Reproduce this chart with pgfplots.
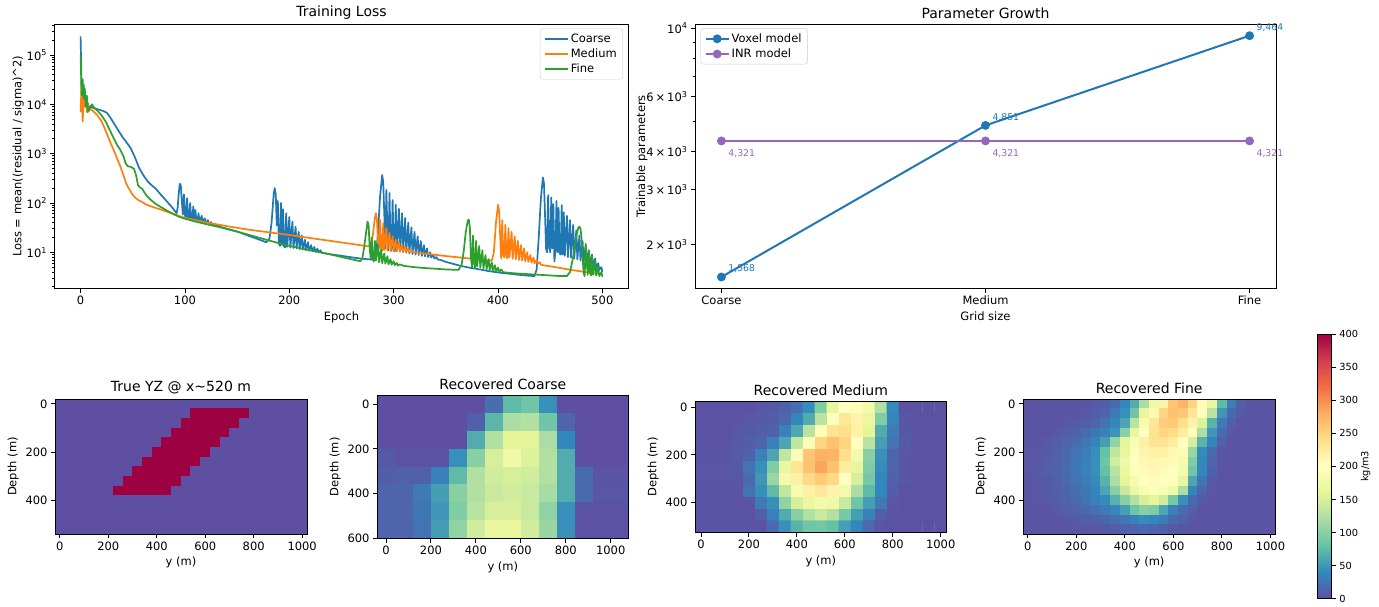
\documentclass[border=0pt]{standalone}
\usepackage{fontspec}
\setmainfont{DejaVu Sans}
\usepackage{pgfplots}
\pgfplotsset{compat=1.18}

\definecolor{tabblue}{RGB}{31,119,180}
\definecolor{taborange}{RGB}{255,127,14}
\definecolor{tabgreen}{RGB}{44,160,44}
\definecolor{tabpurple}{RGB}{148,103,189}

\newcommand\tickfont{\fontsize{11.5}{13.8}\selectfont}
\newcommand\titlefont{\fontsize{14}{16.8}\selectfont}
\newcommand\smallfont{\fontsize{9.3}{11}\selectfont}

\pgfplotsset{
  colormap={spectralr}{rgb255=(94,79,162) rgb255=(50,136,189) rgb255=(102,194,165)
    rgb255=(171,221,164) rgb255=(230,245,152) rgb255=(255,255,191) rgb255=(254,224,139)
    rgb255=(253,174,97) rgb255=(244,109,67) rgb255=(213,62,79) rgb255=(158,1,66)},
  mplbase/.style={
    scale only axis,
    axis line style={line width=0.9pt},
    tick align=outside,
    tick pos=left,
    major tick length=4pt,
    minor tick length=2.3pt,
    every tick/.style={black, line width=0.9pt},
    tick label style={font=\tickfont},
    label style={font=\tickfont},
    title style={font=\titlefont, yshift=-4.5pt},
    /pgf/number format/assume math mode=true,
    /pgf/number format/1000 sep={},
  },
  heat/.style={
    mplbase,
    y dir=reverse,
    axis on top,
    enlargelimits=false,
    xtick={0,200,400,600,800,1000},
    point meta min=0, point meta max=400,
    colormap name=spectralr,
    xlabel={y (m)}, ylabel={Depth (m)},
    anchor=north west,
  },
}

\begin{document}
\begin{tikzpicture}

% ---------------- training loss ----------------
\begin{axis}[
  mplbase,
  at={(54.5pt,-24pt)}, anchor=north west,
  width=574pt, height=264.7pt,
  xmin=-25, xmax=525,
  xtick={0,100,200,300,400,500},
  ymode=log, ymin=1.83, ymax=4.26e5,
  ytick={10,100,1000,1e4,1e5},
  yticklabels={10\textsuperscript{1},10\textsuperscript{2},10\textsuperscript{3},10\textsuperscript{4},10\textsuperscript{5}},
  minor ytick={2,3,4,5,6,7,8,9,20,30,40,50,60,70,80,90,200,300,400,500,600,700,800,900,2000,3000,4000,5000,6000,7000,8000,9000,2e4,3e4,4e4,5e4,6e4,7e4,8e4,9e4,2e5,3e5,4e5},
  title={Training Loss},
  xlabel={Epoch},
  ylabel={Loss = mean((residual / sigma)\textasciicircum 2)},
  ylabel style={yshift=-4pt},
  legend style={at={(1,1)}, anchor=north east, xshift=-5.5pt, yshift=-4.5pt,
    draw=black!20, rounded corners=2.5pt, font=\tickfont, inner xsep=4pt, inner ysep=3pt,
    row sep=1pt},
  legend cell align=left,
  legend image code/.code={\draw[#1] (0pt,0pt) -- (23pt,0pt);},
  every axis plot/.append style={line width=1.7pt, line join=round},
]
\addplot[tabblue] coordinates {
(0,240000) (1,20000) (2,12000) (3,25000) (4,9000) (5,15000) (6,8000) (7,10500) (8,8200)
(10,9000) (12,8500) (15,8100) (18,7800) (22,7300) (25,6800) (28,5600) (32,4100) (36,3000)
(40,2200) (44,1700) (48,1300) (52,850) (56,520) (60,370) (64,280) (68,230) (72,195) (76,155)
(80,125) (84,100) (88,80) (91,66) (92,62) (93,80) (94,150) (95,245) (96,230) (97,110) (98,58)
(99,150) (100,55) (101,52) (102,125) (103,50) (104,48) (105,100) (106,47) (107,45) (108,85)
(109,44) (110,72) (111,43) (112,42) (113,62) (114,41) (116,55) (117,40) (119,49) (120,39)
(122,45) (123,38) (125,41) (126,37) (128,38) (130,35) (140,30) (150,26.5) (160,22) (170,18.5)
(178,16) (181,19) (183,40) (185,150) (186,200) (187,150) (188,35) (189,110) (190,15) (191,13.5)
(192,100) (193,14) (194,75) (195,13) (196,12.5) (197,62) (198,13) (200,52) (201,12.5) (203,42)
(204,12.2) (206,33) (207,12) (209,26) (210,11.6) (212,22) (213,11.3) (215,18) (216,11) (218,16)
(219,10.7) (221,14) (222,10.5) (224,12.8) (225,10.2) (227,11.8) (228,10) (230,11) (231,9.8)
(235,9.5) (240,9.1) (250,8.5) (260,7.9) (270,7.4) (280,7.1) (283,8.5) (285,25) (287,140)
(289,370) (290,260) (291,60) (292,12) (293,185) (294,25) (295,11) (296,160) (297,15) (298,10.8)
(299,115) (300,12) (301,10.5) (302,92) (303,11) (305,76) (306,10.4) (308,62) (309,10.1) (311,50)
(312,9.8) (314,40) (315,9.5) (317,32) (318,9.2) (320,26) (321,9) (323,21) (324,8.8) (326,17)
(327,8.5) (329,14) (330,8.3) (332,12) (333,8) (335,10) (336,7.8) (338,9) (339,7.5) (341,8)
(342,7.2) (345,7) (350,6.4) (360,5.6) (370,5) (380,4.6) (390,4.2) (400,3.9) (410,3.7) (420,3.5)
(430,3.35) (435,3.3) (437,4.5) (439,20) (441,120) (443,330) (444,250) (445,60) (446,12) (447,10)
(448,145) (449,13) (450,10) (451,130) (452,12) (453,95) (454,6.5) (455,11) (456,110) (457,10)
(458,80) (459,9.5) (460,9) (461,90) (462,9) (463,65) (464,8.5) (466,55) (467,8) (469,45)
(470,7.8) (472,36) (473,7.5) (475,28) (476,7.2) (478,22) (479,6.8) (481,17) (482,6.5) (484,14)
(485,6) (487,11) (488,5.6) (490,9) (491,5.2) (493,7.5) (494,4.8) (496,6) (497,4.4) (499,5) (500,4)
};
\addlegendentry{Coarse}
\addplot[taborange] coordinates {
(0,7000) (1,27000) (2,4500) (3,14000) (4,9000) (5,13000) (6,7000) (7,10000) (8,7500) (10,8000)
(13,7000) (16,6000) (20,4600) (23,3300) (26,2300) (29,1600) (32,1150) (35,800) (38,560) (41,370)
(44,240) (47,185) (50,145) (53,125) (56,112) (59,105) (62,95) (66,88) (70,82) (75,76) (80,70)
(85,64) (90,59) (95,54) (100,50) (110,45) (120,40.5) (140,34) (160,29) (180,25.5) (200,22.5)
(220,19.5) (240,17) (260,14.8) (276,13.2) (278,14) (280,22) (282,50) (283,62) (284,45) (285,16)
(286,12) (287,46) (288,11.5) (289,10.8) (290,39) (291,11) (293,31) (294,10.8) (296,25) (297,10.6)
(299,21) (300,10.5) (302,18) (303,10.4) (305,16) (306,10.3) (308,14) (309,10.2) (311,13) (312,10.1)
(314,12) (315,10) (318,10.6) (319,9.9) (322,10.1) (325,9.7) (330,9.4) (340,8.9) (350,8.4) (360,8)
(370,7.6) (380,7.2) (390,6.9) (394,6.8) (396,10) (398,40) (400,92) (401,70) (402,22) (403,7.5)
(404,45) (405,9) (406,7.8) (407,36) (408,8.5) (409,7.5) (410,31) (411,8) (413,26) (414,7.4)
(416,21) (417,7.2) (419,17) (420,7) (422,14) (423,6.8) (425,12) (426,6.6) (428,10) (429,6.4)
(431,8.8) (432,6.2) (434,7.8) (435,6) (437,7) (438,5.8) (440,6.3) (441,5.6) (445,5.4) (450,5.2)
(460,4.8) (470,4.4) (480,4.1) (490,3.8) (500,3.6)
};
\addlegendentry{Medium}
\addplot[tabgreen] coordinates {
(0,100000) (1,15000) (2,32000) (3,13000) (4,21000) (5,9000) (6,15000) (7,7000) (9,9000)
(11,10000) (13,8500) (16,7500) (20,6000) (24,4500) (28,3000) (32,2000) (35,1500) (38,1200)
(41,900) (43,650) (45,560) (48,540) (51,500) (53,380) (55,230) (57,205) (59,195) (61,165)
(64,135) (68,112) (72,96) (76,85) (80,76) (85,66) (90,58) (95,52) (100,48) (110,42) (120,37.5)
(140,30) (160,23) (180,17.5) (200,13.5) (220,11) (240,9) (255,7.6) (268,6.6) (270,7.5) (272,14)
(274,30) (275,42) (276,35) (277,12) (278,7.5) (279,20) (280,7.2) (281,6.5) (282,17) (283,6.8)
(285,14) (286,6.3) (288,11.5) (289,6) (291,9.5) (292,5.9) (294,8.3) (295,5.7) (297,7.3) (298,5.6)
(300,6.6) (301,5.5) (303,6.1) (304,5.4) (306,5.7) (310,5.3) (320,5.0) (330,4.8) (340,4.65)
(350,4.5) (362,4.4) (365,5.5) (367,10) (369,25) (371,44) (372,46) (373,32) (374,8) (375,5)
(376,22) (377,6) (378,4.8) (379,17) (380,5.2) (382,13.5) (383,4.9) (385,11) (386,4.7) (388,8.8)
(389,4.5) (391,7.3) (392,4.4) (394,6.3) (395,4.2) (397,5.5) (398,4.1) (400,4.9) (401,4) (403,4.5)
(405,3.95) (410,3.85) (420,3.7) (440,3.5) (460,3.3) (466,3.3) (469,4) (472,8) (475,22) (477,32)
(478,33) (479,30) (480,20) (481,8) (482,3.8) (483,3.3) (484,15) (485,6) (486,3.5) (487,11)
(488,4) (489,3.4) (490,8.5) (491,3.5) (493,6.5) (494,3.4) (496,5) (497,3.3) (499,4) (500,3.2)
};
\addlegendentry{Fine}
\end{axis}

% ---------------- parameter growth ----------------
\begin{axis}[
  mplbase,
  at={(695pt,-24pt)}, anchor=north west,
  width=581pt, height=264.7pt,
  xmin=-0.1, xmax=2.1,
  xtick={0,1,2}, xticklabels={Coarse,Medium,Fine},
  ymode=log, ymin=1437, ymax=10327,
  ytick={2000,3000,4000,6000,10000},
  yticklabels={2\,×\,10\textsuperscript{3},3\,×\,10\textsuperscript{3},4\,×\,10\textsuperscript{3},6\,×\,10\textsuperscript{3},10\textsuperscript{4}},
  minor ytick={5000,7000,8000,9000},
  title={Parameter Growth},
  xlabel={Grid size},
  ylabel={Trainable parameters},
  ylabel style={yshift=-8pt},
  legend style={at={(0,1)}, anchor=north west, xshift=5.5pt, yshift=-4.5pt,
    draw=black!20, rounded corners=2.5pt, font=\tickfont, inner xsep=4pt, inner ysep=3pt,
    row sep=1pt},
  legend cell align=left,
  legend image code/.code={\draw[mark repeat=2,mark phase=2,#1] plot coordinates {(0pt,0pt) (11.5pt,0pt) (23pt,0pt)};},
]
\addplot[tabblue, line width=2pt, mark=*, mark size=3.4pt,
  nodes near coords, point meta=explicit symbolic,
  every node near coord/.append style={anchor=base west, xshift=6pt, yshift=5pt,
    inner sep=0pt, font=\smallfont, text=tabblue}]
  coordinates {(0,1568) [1,568] (1,4851) [4,851] (2,9464) [9,464]};
\addlegendentry{Voxel model}
\addplot[tabpurple, line width=2pt, mark=*, mark size=3.4pt,
  nodes near coords, point meta=explicit symbolic,
  every node near coord/.append style={anchor=base west, xshift=6pt, yshift=-15.5pt,
    inner sep=0pt, font=\smallfont, text=tabpurple}]
  coordinates {(0,4321) [4,321] (1,4321) [4,321] (2,4321) [4,321]};
\addlegendentry{INR model}
\end{axis}

% ---------------- true model section ----------------
\begin{axis}[
  heat,
  at={(55pt,-399pt)},
  width=252pt, height=135pt,
  xmin=-20, xmax=1020, ymin=-20, ymax=540,
  ytick={0,200,400},
  title={True YZ @ x\textasciitilde520 m},
]
\addplot[matrix plot*, mesh/cols=26, point meta=explicit]
  table[row sep=\\, header=false, meta index=0,
        x expr={40*mod(\coordindex,26)}, y expr={40*floor((\coordindex+0.5)/26)}] {
0\\0\\0\\0\\0\\0\\0\\0\\0\\0\\0\\0\\0\\0\\0\\0\\0\\0\\0\\0\\0\\0\\0\\0\\0\\0\\
0\\0\\0\\0\\0\\0\\0\\0\\0\\0\\0\\0\\0\\0\\400\\400\\400\\400\\400\\400\\0\\0\\0\\0\\0\\0\\
0\\0\\0\\0\\0\\0\\0\\0\\0\\0\\0\\0\\0\\400\\400\\400\\400\\400\\400\\0\\0\\0\\0\\0\\0\\0\\
0\\0\\0\\0\\0\\0\\0\\0\\0\\0\\0\\0\\400\\400\\400\\400\\400\\400\\0\\0\\0\\0\\0\\0\\0\\0\\
0\\0\\0\\0\\0\\0\\0\\0\\0\\0\\0\\400\\400\\400\\400\\400\\400\\0\\0\\0\\0\\0\\0\\0\\0\\0\\
0\\0\\0\\0\\0\\0\\0\\0\\0\\0\\400\\400\\400\\400\\400\\400\\0\\0\\0\\0\\0\\0\\0\\0\\0\\0\\
0\\0\\0\\0\\0\\0\\0\\0\\0\\400\\400\\400\\400\\400\\400\\0\\0\\0\\0\\0\\0\\0\\0\\0\\0\\0\\
0\\0\\0\\0\\0\\0\\0\\0\\400\\400\\400\\400\\400\\400\\0\\0\\0\\0\\0\\0\\0\\0\\0\\0\\0\\0\\
0\\0\\0\\0\\0\\0\\0\\400\\400\\400\\400\\400\\400\\0\\0\\0\\0\\0\\0\\0\\0\\0\\0\\0\\0\\0\\
0\\0\\0\\0\\0\\0\\400\\400\\400\\400\\400\\400\\0\\0\\0\\0\\0\\0\\0\\0\\0\\0\\0\\0\\0\\0\\
0\\0\\0\\0\\0\\0\\0\\0\\0\\0\\0\\0\\0\\0\\0\\0\\0\\0\\0\\0\\0\\0\\0\\0\\0\\0\\
0\\0\\0\\0\\0\\0\\0\\0\\0\\0\\0\\0\\0\\0\\0\\0\\0\\0\\0\\0\\0\\0\\0\\0\\0\\0\\
0\\0\\0\\0\\0\\0\\0\\0\\0\\0\\0\\0\\0\\0\\0\\0\\0\\0\\0\\0\\0\\0\\0\\0\\0\\0\\
0\\0\\0\\0\\0\\0\\0\\0\\0\\0\\0\\0\\0\\0\\0\\0\\0\\0\\0\\0\\0\\0\\0\\0\\0\\0\\
};
\end{axis}

% ---------------- recovered, coarse grid (80 m) ----------------
\begin{axis}[
  heat,
  at={(377pt,-395pt)},
  width=251.7pt, height=143.5pt,
  xmin=-40, xmax=1080, ymin=-40, ymax=600,
  ytick={0,200,400,600},
  title={Recovered Coarse},
]
\addplot[matrix plot*, mesh/cols=14, point meta=explicit]
  table[row sep=\\, header=false, meta index=0,
        x expr={80*mod(\coordindex,14)}, y expr={80*floor((\coordindex+0.5)/14)}] {
0\\0\\0\\0\\0\\0\\22\\75\\85\\45\\0\\0\\0\\0\\
0\\0\\0\\0\\0\\12\\72\\120\\125\\85\\15\\0\\0\\0\\
0\\0\\0\\0\\0\\65\\125\\160\\158\\120\\40\\0\\0\\0\\
8\\2\\2\\2\\45\\100\\150\\175\\155\\125\\65\\0\\0\\0\\
10\\12\\12\\35\\75\\125\\145\\150\\145\\125\\65\\20\\3\\3\\
15\\15\\30\\55\\100\\125\\140\\145\\140\\118\\65\\20\\5\\5\\
15\\15\\28\\50\\95\\130\\150\\150\\140\\105\\45\\2\\2\\2\\
15\\15\\25\\55\\105\\145\\165\\165\\145\\110\\45\\2\\2\\2\\
};
\end{axis}

% ---------------- recovered, medium grid (50 m) ----------------
\begin{axis}[
  heat,
  at={(695pt,-401pt)},
  width=251.7pt, height=131.7pt,
  xmin=-25, xmax=1025, ymin=-25, ymax=525,
  ytick={0,200,400},
  title={Recovered Medium},
]
\addplot[matrix plot*, mesh/cols=21, point meta=explicit]
  table[row sep=\\, header=false, meta index=0,
        x expr={50*mod(\coordindex,21)}, y expr={50*floor((\coordindex+0.5)/21)}] {
2\\2\\2\\2\\2\\5\\8\\12\\22\\42\\95\\165\\200\\205\\180\\125\\42\\2\\2\\2\\2\\
2\\2\\2\\2\\5\\8\\10\\18\\38\\65\\130\\195\\230\\215\\170\\95\\38\\5\\2\\2\\2\\
2\\2\\2\\5\\8\\10\\12\\35\\62\\130\\195\\235\\240\\220\\160\\65\\30\\5\\2\\2\\2\\
3\\3\\3\\6\\10\\15\\35\\60\\135\\205\\250\\265\\250\\200\\130\\55\\25\\8\\2\\2\\2\\
3\\3\\3\\8\\12\\35\\60\\135\\205\\262\\278\\275\\240\\180\\100\\45\\15\\5\\2\\2\\2\\
4\\4\\4\\8\\25\\45\\95\\170\\232\\265\\285\\265\\225\\165\\95\\42\\15\\5\\2\\2\\2\\
4\\4\\4\\4\\20\\50\\110\\180\\220\\245\\258\\245\\200\\150\\90\\40\\12\\5\\2\\2\\2\\
3\\3\\3\\3\\25\\45\\75\\135\\185\\220\\228\\215\\180\\120\\75\\40\\10\\2\\2\\2\\2\\
3\\3\\3\\3\\3\\30\\45\\105\\150\\170\\180\\175\\140\\85\\55\\30\\5\\2\\2\\2\\2\\
3\\3\\3\\3\\3\\10\\35\\65\\100\\125\\140\\125\\90\\55\\35\\10\\3\\2\\2\\2\\2\\
3\\3\\3\\3\\3\\3\\20\\45\\70\\85\\88\\80\\55\\40\\18\\5\\2\\2\\2\\2\\2\\
};
\end{axis}

% ---------------- recovered, fine grid (40 m) ----------------
\begin{axis}[
  heat,
  at={(1023pt,-399pt)},
  width=252.3pt, height=135pt,
  xmin=-20, xmax=1020, ymin=-20, ymax=540,
  ytick={0,200,400},
  title={Recovered Fine},
  colorbar,
  colorbar style={
    at={(parent axis.north east)}, anchor=north west,
    xshift=34pt, yshift=65pt,
    scale only axis, width=14pt, height=264.7pt,
    axis line style={line width=0.9pt},
    xtick=\empty,
    ytick={0,50,100,150,200,250,300,350,400},
    ytick pos=right, yticklabel pos=right,
    tick align=outside, major tick length=4pt,
    every tick/.style={black, line width=0.9pt},
    yticklabel style={font=\fontsize{9.8}{11.5}\selectfont},
    ylabel={kg/m3}, ylabel style={font=\fontsize{9.8}{11.5}\selectfont},
    ylabel shift=-4pt,
    /pgf/number format/assume math mode=true,
  },
]
\addplot[matrix plot*, mesh/cols=26, point meta=explicit]
  table[row sep=\\, header=false, meta index=0,
        x expr={40*mod(\coordindex,26)}, y expr={40*floor((\coordindex+0.5)/26)}] {
3\\3\\3\\3\\3\\3\\3\\6\\10\\20\\40\\65\\120\\175\\215\\262\\275\\250\\205\\165\\75\\32\\10\\3\\3\\3\\
3\\3\\3\\3\\3\\3\\6\\10\\15\\30\\45\\85\\165\\210\\248\\265\\260\\230\\195\\130\\50\\20\\8\\3\\3\\3\\
3\\3\\3\\3\\5\\8\\10\\15\\25\\40\\60\\130\\185\\230\\255\\258\\240\\215\\155\\70\\30\\10\\3\\3\\3\\3\\
3\\3\\3\\6\\10\\14\\20\\28\\35\\48\\100\\165\\200\\235\\248\\243\\225\\195\\120\\50\\20\\5\\3\\3\\3\\3\\
3\\3\\6\\10\\15\\20\\28\\38\\55\\105\\160\\190\\220\\235\\235\\225\\200\\150\\70\\38\\12\\3\\3\\3\\3\\3\\
4\\4\\8\\12\\18\\25\\32\\45\\80\\135\\165\\195\\215\\220\\220\\210\\190\\110\\42\\20\\5\\3\\3\\3\\3\\3\\
4\\6\\10\\14\\20\\28\\35\\45\\85\\145\\175\\200\\210\\212\\210\\205\\185\\95\\40\\15\\4\\3\\3\\3\\3\\3\\
4\\6\\10\\14\\20\\28\\35\\45\\80\\130\\170\\195\\205\\210\\205\\200\\180\\85\\40\\12\\3\\3\\3\\3\\3\\3\\
3\\5\\8\\12\\18\\25\\32\\42\\70\\120\\160\\185\\200\\205\\200\\195\\165\\60\\28\\8\\3\\3\\3\\3\\3\\3\\
3\\5\\8\\12\\16\\22\\28\\40\\60\\100\\140\\170\\190\\195\\190\\175\\120\\40\\15\\5\\3\\3\\3\\3\\3\\3\\
3\\4\\6\\10\\14\\20\\26\\35\\42\\70\\100\\125\\150\\160\\145\\90\\45\\20\\8\\3\\3\\3\\3\\3\\3\\3\\
3\\3\\3\\6\\10\\14\\18\\24\\30\\40\\55\\85\\100\\95\\60\\35\\20\\10\\3\\3\\3\\3\\3\\3\\3\\3\\
3\\3\\3\\3\\5\\8\\10\\12\\16\\22\\28\\35\\42\\40\\30\\20\\12\\6\\3\\3\\3\\3\\3\\3\\3\\3\\
3\\3\\3\\3\\3\\3\\5\\6\\8\\10\\12\\15\\18\\16\\12\\8\\5\\3\\3\\3\\3\\3\\3\\3\\3\\3\\
};
\end{axis}

\pgfresetboundingbox
\path[use as bounding box] (0pt,0pt) rectangle (1379pt,-606pt);
\end{tikzpicture}
\end{document}
